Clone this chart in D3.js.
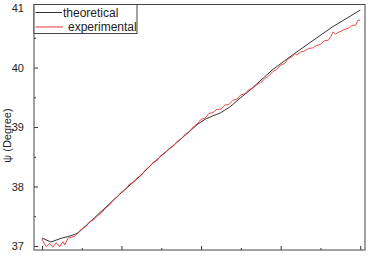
<!DOCTYPE html>
<html>
<head>
<meta charset="utf-8">
<script src="https://cdn.jsdelivr.net/npm/d3@7"></script>
<style>
	body { margin: 0; background: #fff; }
	text { font-family: "Liberation Sans", Arial, sans-serif; fill: #222; }
</style>
</head>
<body>
<div id="chart"></div>
<script>
// theoretical curve, [x, degree]
var theoretical = [
	[0, 37.134], [0.113, 37.067], [0.239, 37.129], [0.365, 37.173], [0.453, 37.218],
	[0.792, 37.639], [0.994, 37.891], [1.233, 38.176], [1.396, 38.395], [1.774, 38.832],
	[1.95, 39.04], [2.05, 39.13], [2.15, 39.19], [2.239, 39.235], [2.365, 39.341],
	[2.491, 39.487], [2.616, 39.622], [2.893, 39.958], [3.182, 40.244], [3.648, 40.681],
	[4.0, 40.966]
]

// experimental curve, [x, degree]
var experimental = [
	[0, 37.12], [0.025, 37.05], [0.054, 36.99], [0.097, 37.045], [0.138, 36.98],
	[0.18, 37.055], [0.223, 36.99], [0.264, 37.072], [0.286, 37.017], [0.327, 37.13],
	[0.369, 37.146], [0.411, 37.168], [0.453, 37.224], [0.5, 37.29], [0.55, 37.32],
	[0.6, 37.41], [0.65, 37.44], [0.7, 37.51], [0.75, 37.56], [0.8, 37.64],
	[0.85, 37.69], [0.9, 37.78], [0.95, 37.83], [1.0, 37.91], [1.05, 37.95],
	[1.1, 38.04], [1.15, 38.07], [1.2, 38.15], [1.25, 38.19], [1.3, 38.28],
	[1.35, 38.33], [1.4, 38.41], [1.45, 38.44], [1.5, 38.53], [1.55, 38.57],
	[1.6, 38.64], [1.65, 38.68], [1.7, 38.76], [1.75, 38.8], [1.8, 38.88],
	[1.85, 38.92], [1.9, 39.0], [1.95, 39.05], [2.0, 39.13], [2.05, 39.15],
	[2.1, 39.23], [2.15, 39.24], [2.2, 39.3], [2.25, 39.3], [2.3, 39.37],
	[2.35, 39.38], [2.4, 39.45], [2.45, 39.47], [2.5, 39.54], [2.55, 39.56],
	[2.6, 39.63], [2.65, 39.65], [2.7, 39.71], [2.75, 39.75], [2.8, 39.81],
	[2.85, 39.86], [2.9, 39.93], [2.95, 39.97], [3.0, 40.04], [3.05, 40.07],
	[3.1, 40.15], [3.15, 40.19], [3.18, 40.24], [3.2, 40.21], [3.25, 40.26],
	[3.3, 40.28], [3.35, 40.32], [3.4, 40.33], [3.45, 40.37], [3.5, 40.39],
	[3.55, 40.45], [3.6, 40.46], [3.63, 40.52], [3.66, 40.6], [3.69, 40.56],
	[3.72, 40.59], [3.76, 40.61], [3.8, 40.64], [3.85, 40.66], [3.9, 40.71],
	[3.94, 40.71], [3.97, 40.79], [4.0, 40.8]
]

var yTicks = [37, 38, 39, 40, 41]
var yMinor = [37.5, 38.5, 39.5, 40.5]
var xTicks = [0, 1, 2, 3, 4]
var xMinor = [0.5, 1.5, 2.5, 3.5]

var seriesNames = ["theoretical", "experimental"]
var seriesColours = ["#333", "#e8343a"]

var margin = {top: 4.5, right: 8, bottom: 7, left: 34}
var fullWidth = 373, fullHeight = 257
var width = fullWidth - margin.left - margin.right
var height = fullHeight - margin.top - margin.bottom

var svg = d3.select("#chart").append("svg")
	.attr("width", fullWidth)
	.attr("height", fullHeight)

var g = svg.append("g")
	.attr("transform", "translate(" + margin.left + "," + margin.top + ")")

var x = d3.scaleLinear().domain([-0.1, 4.06]).range([0, width])
var y = d3.scaleLinear().domain([36.933, 41.06]).range([height, 0])

var line = d3.line()
	.x(d => x(d[0]))
	.y(d => y(d[1]))

g.append("path")
	.datum(theoretical)
	.attr("fill", "none")
	.attr("stroke", seriesColours[0])
	.attr("stroke-width", 1)
	.attr("d", line)

g.append("path")
	.datum(experimental)
	.attr("fill", "none")
	.attr("stroke", seriesColours[1])
	.attr("stroke-width", 0.9)
	.attr("d", line)

// axes: ticks point inward, no x labels
var yAxis = d3.axisLeft(y).tickValues(yTicks).tickSize(-4).tickPadding(10).tickFormat(d3.format("d"))
var yAxisMinor = d3.axisLeft(y).tickValues(yMinor).tickSize(-2).tickFormat("")
var xAxis = d3.axisBottom(x).tickValues(xTicks).tickSize(-4).tickFormat("")
var xAxisMinor = d3.axisBottom(x).tickValues(xMinor).tickSize(-2).tickFormat("")

g.append("g").attr("class", "axis").call(yAxis)
g.append("g").attr("class", "axis").call(yAxisMinor)
g.append("g").attr("class", "axis").attr("transform", "translate(0," + height + ")").call(xAxis)
g.append("g").attr("class", "axis").attr("transform", "translate(0," + height + ")").call(xAxisMinor)

g.selectAll(".axis .domain").remove()
g.selectAll(".axis line").attr("stroke", "#333")
g.selectAll(".axis text")
	.style("font-family", "Liberation Sans, Arial, sans-serif")
	.style("font-size", "11px")
	.attr("fill", "#222")

// frame
g.append("rect")
	.attr("width", width)
	.attr("height", height)
	.attr("fill", "none")
	.attr("stroke", "#444")
	.attr("stroke-width", 1)

// legend
var legend = g.append("g")
legend.append("rect")
	.attr("x", 0)
	.attr("y", 0)
	.attr("width", 103)
	.attr("height", 29)
	.attr("fill", "#fff")
	.attr("stroke", "#444")

seriesNames.forEach((name, i) => {
	let ly = 8 + i * 14.5
	legend.append("line")
		.attr("x1", 1.5).attr("x2", 28 + i)
		.attr("y1", ly).attr("y2", ly)
		.attr("stroke", seriesColours[i])
	legend.append("text")
		.attr("x", 29 + i * 5)
		.attr("y", ly + 4)
		.style("font-size", "12px")
		.text(name)
})

svg.append("text")
	.attr("transform", "translate(11," + (margin.top + 131) + ") rotate(-90)")
	.attr("text-anchor", "middle")
	.style("font-size", "11px")
	.text("ψ (Degree)")
</script>
</body>
</html>
